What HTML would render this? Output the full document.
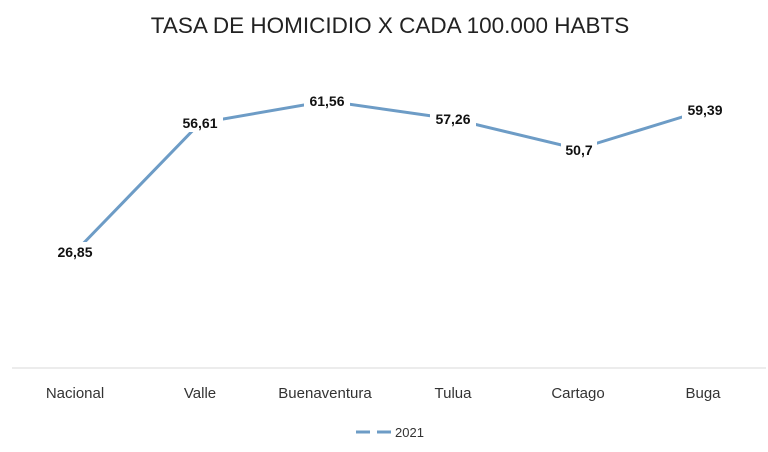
<!DOCTYPE html>
<html><head><meta charset="utf-8"><style>
body{margin:0;width:768px;height:447px;background:#fff;overflow:hidden;font-family:"Liberation Sans",Calibri,sans-serif}
</style></head><body>
<svg width="768" height="447" xmlns="http://www.w3.org/2000/svg" font-family="Liberation Sans, sans-serif">
<text x="390" y="33" text-anchor="middle" font-size="22.5" fill="#222">TASA DE HOMICIDIO X CADA 100.000 HABTS</text>
<line x1="12" y1="368" x2="766" y2="368" stroke="#d9d9d9" stroke-width="1"/>
<polyline points="75,252 200,123 327,101 453,119 578,149 705,110" fill="none" stroke="#6d9cc6" stroke-width="3"/>
<g font-size="14" font-weight="bold" fill="#111" text-anchor="middle">
<rect x="52" y="242" width="46" height="19" fill="#fff"/><text x="75" y="257">26,85</text>
<rect x="177" y="113" width="46" height="19" fill="#fff"/><text x="200" y="128">56,61</text>
<rect x="304" y="91" width="46" height="19" fill="#fff"/><text x="327" y="106">61,56</text>
<rect x="430" y="109" width="46" height="19" fill="#fff"/><text x="453" y="124">57,26</text>
<rect x="561" y="140" width="36" height="19" fill="#fff"/><text x="579" y="155">50,7</text>
<rect x="682" y="100" width="46" height="19" fill="#fff"/><text x="705" y="115">59,39</text>
</g>
<g font-size="15" fill="#333" text-anchor="middle">
<text x="75" y="398">Nacional</text>
<text x="200" y="398">Valle</text>
<text x="325" y="398">Buenaventura</text>
<text x="453" y="398">Tulua</text>
<text x="578" y="398">Cartago</text>
<text x="703" y="398">Buga</text>
</g>
<line x1="356" y1="432" x2="370" y2="432" stroke="#6d9cc6" stroke-width="3"/>
<line x1="377" y1="432" x2="391" y2="432" stroke="#6d9cc6" stroke-width="3"/>
<text x="395" y="437" font-size="13" fill="#333">2021</text>
</svg>
</body></html>
